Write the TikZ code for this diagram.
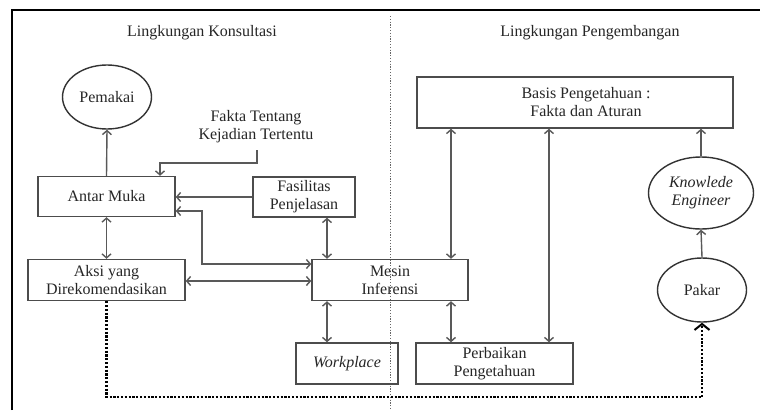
\documentclass[tikz,border=0pt]{standalone}
\usepackage{fontspec}
\setmainfont{Liberation Serif}
\usetikzlibrary{arrows.meta,shapes.geometric}
\begin{document}
\begin{tikzpicture}[x=1pt,y=-1pt,
  every node/.style={font=\fontsize{16}{18}\selectfont, align=center, text=black!85},
  box/.style={draw=black!70, line width=1.4pt, rectangle, inner sep=0pt},
  oval/.style={draw=black!80, line width=1.4pt, ellipse, inner sep=0pt},
  conn/.style={draw=black!65, line width=1.4pt},
  arr/.style={conn, -{Straight Barb[length=4pt,width=9pt]}},
  darr/.style={conn, {Straight Barb[length=4pt,width=9pt]}-{Straight Barb[length=4pt,width=9pt]}},
  dotline/.style={draw=black, line width=2.2pt, dash pattern=on 2.2pt off 1.6pt, -{Straight Barb[length=6pt,width=15pt,line width=2pt]}},
  divider/.style={draw=black!60, line width=0.9pt, dash pattern=on 1.2pt off 1.6pt},
  frame/.style={draw=black, line width=2pt}
]
\useasboundingbox (0,0) rectangle (760,410);
\fill[white] (0,0) rectangle (760,410);

% frame and divider
\draw[frame] (12,410) -- (12,10) -- (760,10);
\draw[divider] (390,16) -- (390,410);

% titles
\node (t1) at (202,33) {Lingkungan Konsultasi};
\node (t2) at (590,33) {Lingkungan Pengembangan};

% nodes
\node[oval, minimum width=89pt, minimum height=64pt] (pem) at (107,97) {Pemakai};
\node (fakta) at (256,127) {Fakta Tentang\\Kejadian Tertentu};
\node[box, minimum width=137pt, minimum height=40pt] (am) at (106.5,196.5) {Antar Muka};
\node[box, minimum width=102pt, minimum height=40pt] (fp) at (304,197) {Fasilitas\\Penjelasan};
\node[box, minimum width=157pt, minimum height=41pt] (aksi) at (106.5,280) {Aksi yang\\Direkomendasikan};
\node[box, minimum width=156pt, minimum height=41pt] (mesin) at (390,280) {Mesin\\Inferensi};
\node[box, minimum width=102pt, minimum height=41pt] (wp) at (347,363.5) {\itshape Workplace};
\node[box, minimum width=157pt, minimum height=41pt] (pb) at (494.5,363.5) {Perbaikan\\Pengetahuan};
\node[box, minimum width=316pt, minimum height=51pt] (basis) at (575,102.5) {};
\node (basistxt) at (586,102.5) {Basis Pengetahuan :\\Fakta dan Aturan};
\node[oval, minimum width=105pt, minimum height=72pt] (ke) at (701,193) {\itshape Knowlede\\\itshape Engineer};
\node[oval, minimum width=89pt, minimum height=64pt] (pakar) at (702,290) {Pakar};

% helper coordinates
\coordinate (k1) at (160,163);
\coordinate (fk) at (257,150);
\coordinate (m1) at (202,264);
\coordinate (m2) at (202,211);
\coordinate (d1) at (106.5,397);

% connectors
\draw[arr] (am.north) -- (pem.south);
\draw[arr] (fk) |- (k1) -- (k1 |- am.north);
\draw[arr] (fp.west |- 0,197) -- (am.east |- 0,197);
\draw[darr] (am.east |- m2) -- (m2) -- (m1) -- (mesin.west |- m1);
\draw[darr] (am.south) -- (aksi.north);
\draw[darr] (aksi.east |- 0,281) -- (mesin.west |- 0,281);
\draw[darr] (fp.south -| 327,0) -- (mesin.north -| 327,0);
\draw[darr] (mesin.south -| 327,0) -- (wp.north -| 327,0);
\draw[darr] (mesin.south -| 451,0) -- (pb.north -| 451,0);
\draw[darr] (basis.south -| 451,0) -- (mesin.north -| 451,0);
\draw[darr] (basis.south -| 549,0) -- (pb.north -| 549,0);
\draw[arr] (ke.north) -- (basis.south -| ke.north);
\draw[arr] (pakar.north) -- (ke.south);
\draw[dotline] (aksi.south) -- (d1) -| (pakar.south);
\end{tikzpicture}
\end{document}
